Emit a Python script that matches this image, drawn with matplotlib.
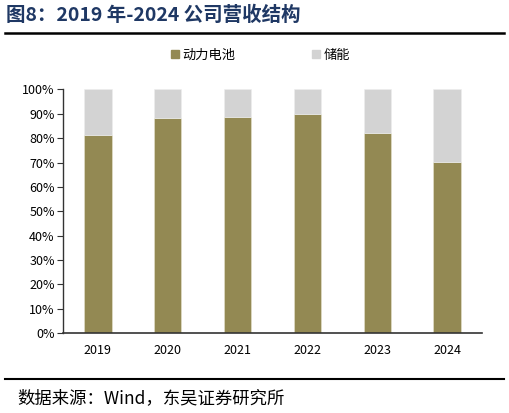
import matplotlib
matplotlib.use('Agg')
import matplotlib.pyplot as plt
from matplotlib.lines import Line2D
from matplotlib.ticker import PercentFormatter

plt.rcParams['font.family'] = ['Noto Sans CJK SC', 'DejaVu Sans']

# ── Data ──────────────────────────────────────────────────────────────────────
years = ['2019', '2020', '2021', '2022', '2023', '2024']
power_battery = [81.2, 88.4, 88.8, 89.9, 82.3, 70.3]   # 动力电池 share (%)
storage = [100 - v for v in power_battery]              # 储能 share (%)

C_POWER = '#938953'
C_STORE = '#D3D3D3'

fig = plt.figure(figsize=(5.10, 4.13), dpi=100)
ax = fig.add_axes([63 / 510, 1 - 333 / 413, 419 / 510, 243.5 / 413])

x = range(len(years))
ax.bar(x, power_battery, width=0.39, color=C_POWER, edgecolor='#E8E4D0', linewidth=0.4, label='动力电池')
ax.bar(x, storage, width=0.39, bottom=power_battery, color=C_STORE, edgecolor='#EEEEEE',
       linewidth=0.4, label='储能')

ax.set_xlim(-0.5, len(years) - 0.5)
ax.set_ylim(0, 100)
ax.set_yticks(range(0, 101, 10))
ax.yaxis.set_major_formatter(PercentFormatter(decimals=0))
ax.set_xticks(list(x))
ax.set_xticklabels(years)
ax.tick_params(axis='y', length=4, width=0.8, color='#333333', labelsize=9, pad=2)
ax.tick_params(axis='x', length=0, labelsize=9, pad=8)
for s in ('top', 'right'):
    ax.spines[s].set_visible(False)
ax.spines['left'].set_color('#333333')
ax.spines['bottom'].set_color('#333333')
ax.spines['left'].set_linewidth(1.0)
ax.spines['bottom'].set_linewidth(1.2)

# legend
handles = [Line2D([], [], marker='s', linestyle='', markersize=5.5, color=C_POWER),
           Line2D([], [], marker='s', linestyle='', markersize=5.5, color=C_STORE)]
fig.legend(handles, ['动力电池', '储能'], loc='center', bbox_to_anchor=(0.508, 1 - 55 / 413),
           ncol=2, frameon=False, fontsize=9.5, handletextpad=0.05, columnspacing=5.6,
           handlelength=1.0)

# title and rules
fig.text(6 / 510, 1 - 15 / 413, '图8：2019 年-2024 公司营收结构', fontsize=14,
         fontweight='bold', color='#1F3864', va='center', ha='left')
fig.add_artist(Line2D([5 / 510, 504 / 510], [1 - 33 / 413] * 2, color='black', linewidth=1.8))
fig.add_artist(Line2D([5 / 510, 504 / 510], [1 - 379 / 413] * 2, color='black', linewidth=1.5))
fig.text(17 / 510, 1 - 398 / 413, '数据来源：Wind，东吴证券研究所', fontsize=12.5,
         color='black', va='center', ha='left')

fig.savefig('out.png', dpi=100)
